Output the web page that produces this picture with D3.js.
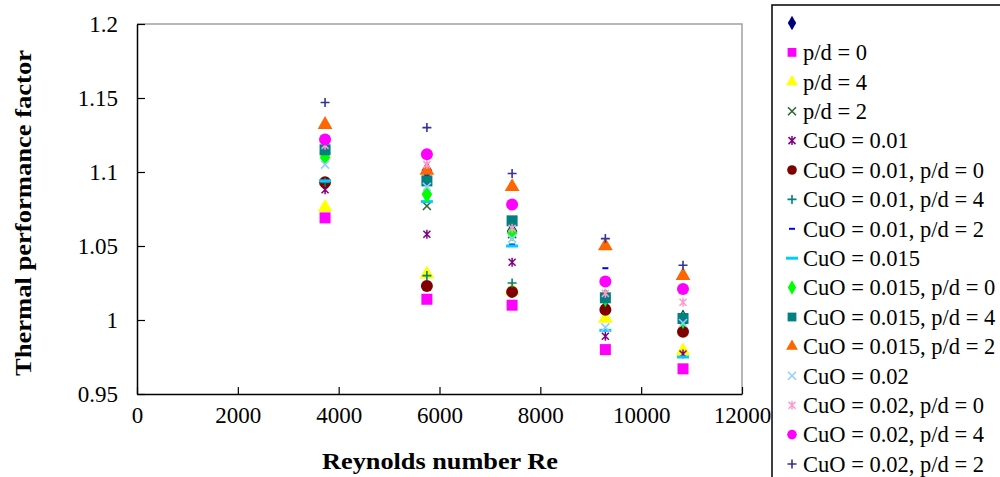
<!DOCTYPE html>
<html>
<head>
<meta charset="utf-8">
<script src="https://cdn.jsdelivr.net/npm/d3@7"></script>
<style>
  body { margin: 0; background: #fff; }
  text { font-family: "Liberation Serif", "Times New Roman", serif; fill: #000; }
</style>
</head>
<body>
<svg width="1000" height="477"></svg>
<script>
// Reynolds numbers (x)
const reynolds = [3730, 5750, 7440, 9290, 10830];

// legend names, in legend order
const seriesNames = [
  "", "p/d = 0", "p/d = 4", "p/d = 2",
  "CuO = 0.01", "CuO = 0.01, p/d = 0", "CuO = 0.01, p/d = 4", "CuO = 0.01, p/d = 2",
  "CuO = 0.015", "CuO = 0.015, p/d = 0", "CuO = 0.015, p/d = 4", "CuO = 0.015, p/d = 2",
  "CuO = 0.02", "CuO = 0.02, p/d = 0", "CuO = 0.02, p/d = 4", "CuO = 0.02, p/d = 2"
];

// thermal performance factor per series
const base       = [1.113, 1.101, 1.060, 1.015, 1.001];
const pd0        = [1.069, 1.014, 1.010, 0.980, 0.967];
const pd4        = [1.076, 1.031, 1.020, 1.001, 0.979];
const pd2        = [1.112, 1.077, 1.058, 1.012, 1.001];
const cuo01      = [1.088, 1.058, 1.039, 0.989, 0.977];
const cuo01pd0   = [1.093, 1.023, 1.019, 1.007, 0.992];
const cuo01pd4   = [1.093, 1.030, 1.025, 1.012, 1.002];
const cuo01pd2   = [1.094, 1.097, 1.051, 1.035, 0.975];
const cuo015     = [1.094, 1.080, 1.050, 0.993, 0.975];
const cuo015pd0  = [1.110, 1.085, 1.059, 1.015, 1.000];
const cuo015pd4  = [1.115, 1.094, 1.067, 1.015, 1.001];
const cuo015pd2  = [1.132, 1.101, 1.090, 1.050, 1.030];
const cuo02      = [1.105, 1.090, 1.055, 0.995, 0.998];
const cuo02pd0   = [1.118, 1.105, 1.062, 1.018, 1.012];
const cuo02pd4   = [1.122, 1.112, 1.078, 1.026, 1.021];
const cuo02pd2   = [1.147, 1.130, 1.099, 1.055, 1.037];

const seriesValues = [base, pd0, pd4, pd2, cuo01, cuo01pd0, cuo01pd4, cuo01pd2,
  cuo015, cuo015pd0, cuo015pd4, cuo015pd2, cuo02, cuo02pd0, cuo02pd4, cuo02pd2];

const xTicks = [0, 2000, 4000, 6000, 8000, 10000, 12000];
const yTicks = [0.95, 1, 1.05, 1.1, 1.15, 1.2];

// marker styles (Excel-like)
const styles = [
  {shape: "diamond", color: "#000080"},
  {shape: "square", color: "#ff00ff"},
  {shape: "triangle", color: "#ffff00"},
  {shape: "x", color: "#336633"},
  {shape: "star", color: "#800080"},
  {shape: "circle", color: "#800000"},
  {shape: "plus", color: "#008080"},
  {shape: "dash", color: "#0000ff"},
  {shape: "bar", color: "#00ccff"},
  {shape: "diamond", color: "#00ff00"},
  {shape: "square", color: "#008080"},
  {shape: "triangle", color: "#ff6600"},
  {shape: "x", color: "#99ccff"},
  {shape: "star", color: "#ff99cc"},
  {shape: "circle", color: "#ff00ff"},
  {shape: "plus", color: "#333399"}
];

const svg = d3.select("svg");
const margin = {left: 137, top: 24, right: 742, bottom: 394};

const x = d3.scaleLinear().domain([0, 12000]).range([margin.left, margin.right]);
const y = d3.scaleLinear().domain([0.95, 1.2]).range([margin.bottom, margin.top]);

// plot frame
svg.append("path")
  .attr("d", `M${margin.left},${margin.top}H${margin.right}V${margin.bottom}`)
  .attr("fill", "none").attr("stroke", "#a0a0a0").attr("stroke-width", 1.5);

// axes with inside ticks
const xAxis = svg.append("g").attr("transform", `translate(0,${margin.bottom})`)
  .call(d3.axisBottom(x).tickValues(xTicks).tickSize(-7).tickSizeOuter(0).tickPadding(13).tickFormat(d3.format("d")));
const yAxis = svg.append("g").attr("transform", `translate(${margin.left},0)`)
  .call(d3.axisLeft(y).tickValues(yTicks).tickSize(-8).tickSizeOuter(0).tickPadding(19).tickFormat(d => String(d)));
[xAxis, yAxis].forEach(g => {
  g.attr("font-family", null).attr("font-size", null);
  g.select(".domain").attr("stroke", "#000").attr("stroke-width", 1.5);
  g.selectAll(".tick line").attr("stroke", "#000").attr("stroke-width", 1.2);
  g.selectAll(".tick text").attr("font-size", 23).attr("fill", "#000");
});
xAxis.selectAll(".tick text").attr("dy", "0.71em");

// axis titles
svg.append("text").attr("x", 440).attr("y", 469).attr("text-anchor", "middle")
  .attr("font-size", 23).attr("font-weight", "bold")
  .attr("textLength", 236).attr("lengthAdjust", "spacingAndGlyphs")
  .text("Reynolds number Re");
svg.append("text").attr("transform", "translate(31,213) rotate(-90)").attr("text-anchor", "middle")
  .attr("font-size", 24).attr("font-weight", "bold")
  .attr("textLength", 326).attr("lengthAdjust", "spacingAndGlyphs")
  .text("Thermal performance factor");

// marker drawing
function drawMarker(g, shape, color, k) {
  switch (shape) {
    case "diamond":
      g.append("path").attr("d", d3.symbol(d3.symbolDiamond, 95 * k * k)()).attr("fill", color); break;
    case "square":
      g.append("rect").attr("x", -5.5 * k).attr("y", -5.5 * k).attr("width", 11 * k).attr("height", 11 * k).attr("fill", color); break;
    case "triangle":
      g.append("path").attr("d", d3.symbol(d3.symbolTriangle, 95 * k * k)()).attr("fill", color); break;
    case "circle":
      g.append("circle").attr("r", 6 * k).attr("fill", color); break;
    case "x":
      g.append("path").attr("d", "M-4,-4L4,4M-4,4L4,-4").attr("stroke", color).attr("stroke-width", 1.6); break;
    case "star":
      g.append("path").attr("d", "M-3.5,-3.5L3.5,3.5M-3.5,3.5L3.5,-3.5M0,-4.5V4.5").attr("stroke", color).attr("stroke-width", 1.5); break;
    case "plus":
      g.append("path").attr("d", "M-4.5,0H4.5M0,-4.5V4.5").attr("stroke", color).attr("stroke-width", 1.6); break;
    case "dash":
      g.append("path").attr("d", "M-3,0H3").attr("stroke", color).attr("stroke-width", 2); break;
    case "bar":
      g.append("path").attr("d", "M-6,0H6").attr("stroke", color).attr("stroke-width", 3); break;
  }
}

// data points
const points = svg.append("g");
seriesValues.forEach((vals, i) => {
  vals.forEach((v, j) => {
    const g = points.append("g").attr("transform", `translate(${x(reynolds[j])},${y(v)})`);
    drawMarker(g, styles[i].shape, styles[i].color, 1);
  });
});

// legend
const legend = svg.append("g");
legend.append("rect").attr("x", 772).attr("y", 5).attr("width", 240).attr("height", 490)
  .attr("fill", "#fff").attr("stroke", "#000").attr("stroke-width", 1.5);
const ly = d3.scalePoint().domain(d3.range(seriesNames.length)).range([23, 464]);
seriesNames.forEach((name, i) => {
  const g = legend.append("g").attr("transform", `translate(792,${ly(i)})`);
  drawMarker(g, styles[i].shape, styles[i].color, 0.8);
  legend.append("text").attr("x", 803).attr("y", ly(i)).attr("dy", "0.35em")
    .attr("font-size", 22.5).text(name);
});
</script>
</body>
</html>
